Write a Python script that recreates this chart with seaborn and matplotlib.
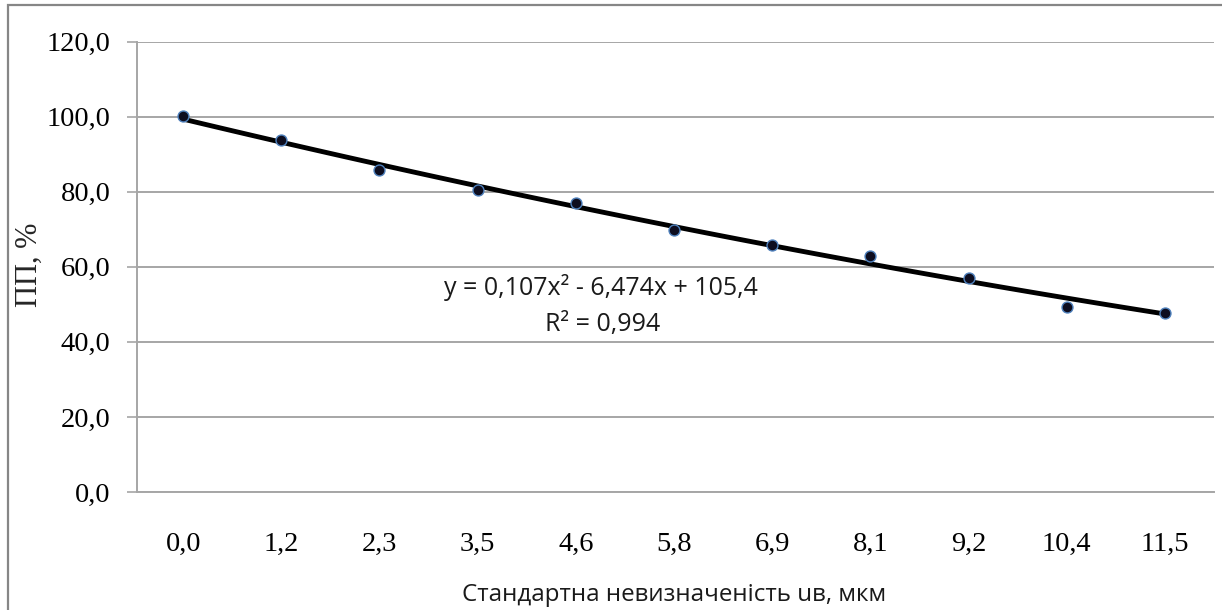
import matplotlib
matplotlib.use("Agg")
import matplotlib.pyplot as plt
import numpy as np
import pandas as pd
import seaborn as sns
from matplotlib.patches import Rectangle

# значення
u_labels = ["0,0", "1,2", "2,3", "3,5", "4,6", "5,8", "6,9", "8,1", "9,2", "10,4", "11,5"]
pp_values = [100.2, 93.7, 85.7, 80.4, 77.0, 69.8, 65.9, 63.0, 57.0, 49.4, 47.8]
y_ticks = [0, 20, 40, 60, 80, 100, 120]

eq_text = "y = 0,107x\u00b2 - 6,474x + 105,4"
r2_text = "R\u00b2 = 0,994"

SERIF = "Liberation Serif"
SANS = "Open Sans"
GRID = "#a6a6a6"

sns.set_theme(style="white")
plt.rcParams["font.family"] = [SERIF, "DejaVu Sans"]

df = pd.DataFrame({"pos": np.arange(len(u_labels)), "pp": pp_values})

fig = plt.figure(figsize=(12.22, 6.10), dpi=100)
ax = fig.add_axes([137 / 1222, 1 - 492 / 610, (1214 - 137) / 1222, (492 - 41.7) / 610])

# поліноміальна лінія тренду 2-го ступеня
sns.regplot(data=df, x="pos", y="pp", order=2, ci=None, scatter=False,
            line_kws={"color": "black", "lw": 3.5, "solid_capstyle": "round"}, ax=ax)
sns.scatterplot(data=df, x="pos", y="pp", s=62, color="#0d0d1f",
                edgecolor="#4f81bd", linewidth=1.0, zorder=4, ax=ax)

ax.set_ylim(0, 120)
ax.set_xlim(-0.47, 10.5)
ax.set_yticks(y_ticks)
ax.set_yticklabels([f"{v:.1f}".replace(".", ",") for v in y_ticks])
ax.set_xticks(df["pos"])
ax.set_xticklabels(u_labels)
ax.yaxis.grid(True, color=GRID, lw=1.4)
ax.set_axisbelow(True)

for side in ["top", "right"]:
    ax.spines[side].set_visible(False)
for side in ["left", "bottom"]:
    ax.spines[side].set_color(GRID)
    ax.spines[side].set_linewidth(1.4)

ax.tick_params(axis="y", length=7, width=1.2, color=GRID, pad=12,
               labelsize=20.5, labelcolor="black", left=True)
ax.tick_params(axis="x", length=0, pad=29, labelsize=20.5, labelcolor="black")
ax.set_xlabel("")
ax.set_ylabel("")

ax.text(4.26, 54.5, eq_text, ha="center", va="center", fontsize=18,
        family=[SANS, "DejaVu Sans"], color="#1a1a1a")
ax.text(4.27, 44.6, r2_text, ha="center", va="center", fontsize=18,
        family=[SANS, "DejaVu Sans"], color="#1a1a1a")

fig.text(29 / 1222, 1 - 265 / 610, "ПП, %", rotation=90, ha="center", va="center",
         fontsize=22, family=[SERIF, "DejaVu Sans"])
fig.text(674 / 1222, 1 - 595 / 610, "Стандартна невизначеність uв, мкм",
         ha="center", va="center", fontsize=17.4, family=[SANS, "DejaVu Sans"],
         color="#1a1a1a")

# рамка області діаграми
fig.patches.append(Rectangle((8 / 1222, -0.05), 1.1, 1 - 5 / 610 + 0.05,
                             transform=fig.transFigure, fill=False,
                             edgecolor="#868686", lw=1.6))

fig.savefig("out.png", dpi=100)
plt.close(fig)
